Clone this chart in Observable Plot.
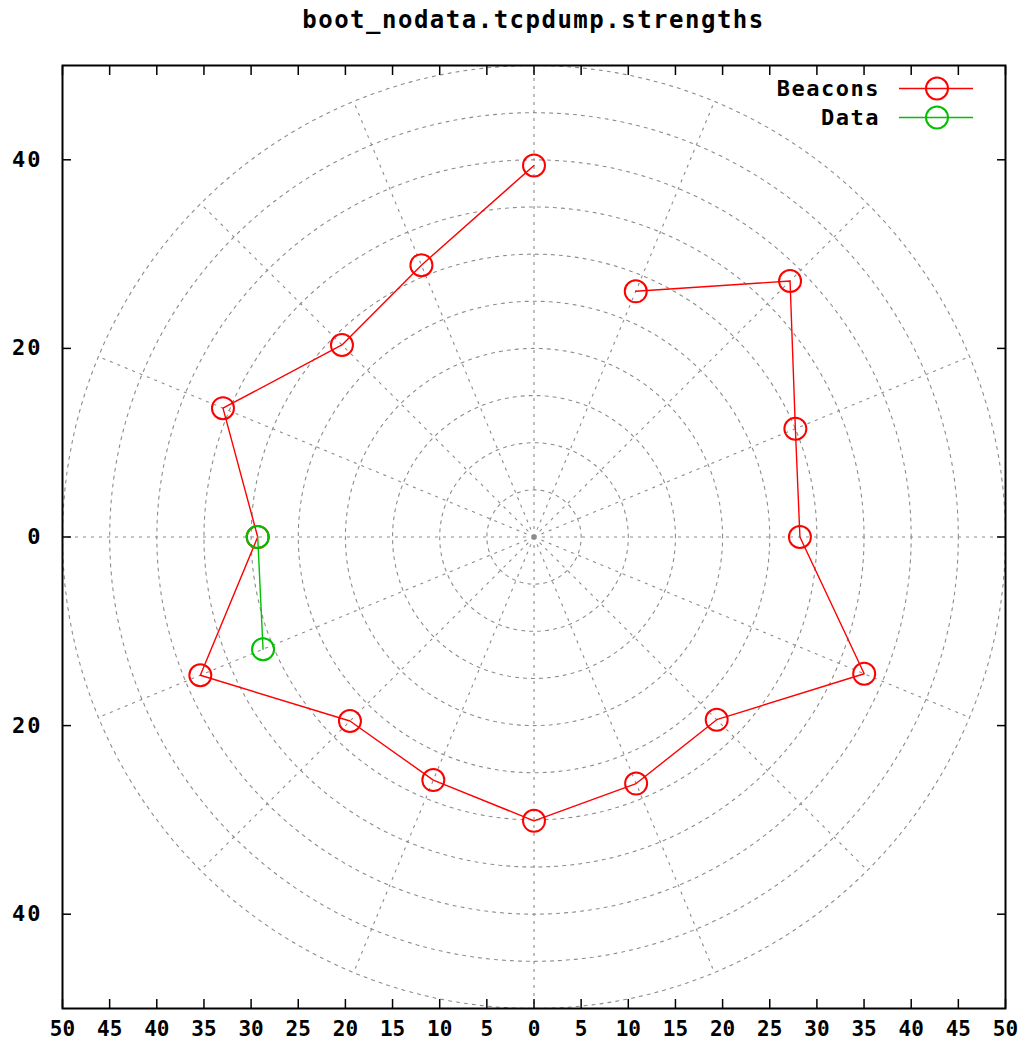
<!DOCTYPE html>
<html><head><meta charset="utf-8">
<script src="https://cdn.jsdelivr.net/npm/d3@7"></script>
<script src="https://cdn.jsdelivr.net/npm/@observablehq/plot@0.6"></script>
<style>
body{margin:0;background:#fff;}
#wrap{position:relative;width:1034px;height:1055px;font-family:"DejaVu Sans Mono",monospace;font-weight:bold;color:#000;}
#title{height:45px;box-sizing:border-box;padding:6px 29px 0 62px;text-align:center;font-size:24px;letter-spacing:1.5px;line-height:28px;}
#legend{position:absolute;left:740px;top:74px;width:260px;}
.row{display:flex;align-items:center;height:29px;}
.row span{display:inline-block;width:140px;text-align:right;font-size:22px;letter-spacing:1.5px;}
.row svg{margin-left:19px;}
</style></head>
<body><div id="wrap"><div id="title">boot_nodata.tcpdump.strengths</div><div id="chart"></div><div id="legend"></div></div>
<script>
// Polar data: angle (degrees), strength (radius)
const beaconAngles    = [90, 112.5, 135, 157.5, 180, 202.5, 225, 247.5, 270, 292.5, 315, 337.5, 0, 22.5, 45, 67.5];
const beaconStrengths = [39.4, 31.2, 28.8, 35.7, 29.3, 38.3, 27.6, 27.9, 30.1, 28.3, 27.4, 37.9, 28.2, 30.0, 38.4, 28.2];
const dataAngles      = [180, 202.5];
const dataStrengths   = [29.3, 31.1];
const seriesNames     = ["Beacons", "Data"];
const seriesColors    = ["#ff0000", "#00c000"];
const xTicks = [-50, -45, -40, -35, -30, -25, -20, -15, -10, -5, 0, 5, 10, 15, 20, 25, 30, 35, 40, 45, 50];
const yTicks = [-40, -20, 0, 20, 40];
const gridRadii  = [5, 10, 15, 20, 25, 30, 35, 40, 45, 50];
const spokeAngles = [0, 22.5, 45, 67.5, 90, 112.5, 135, 157.5, 180, 202.5, 225, 247.5, 270, 292.5, 315, 337.5];

const rad = a => a * Math.PI / 180;
const toXY = (angles, radii) => angles.map((a, i) => ({x: radii[i] * Math.cos(rad(a)), y: radii[i] * Math.sin(rad(a))}));
const beacons = toXY(beaconAngles, beaconStrengths);
const dataPts = toXY(dataAngles, dataStrengths);

const circlePts = [];
for (const r of gridRadii) for (let a = 0; a <= 360; a += 2) circlePts.push({r, x: r * Math.cos(rad(a)), y: r * Math.sin(rad(a))});
const outerR = gridRadii[gridRadii.length - 1];
const spokes = spokeAngles.map(a => ({x2: outerR * Math.cos(rad(a)), y2: outerR * Math.sin(rad(a))}));

const gridStyle = {stroke: "#8c8c8c", strokeWidth: 1.1, strokeDasharray: "3,5"};

const chart = Plot.plot({
  width: 1034, height: 1010,
  marginLeft: 62, marginRight: 29, marginTop: 20, marginBottom: 47,
  x: {domain: [-50, 50]},
  y: {domain: [-50, 50]},
  style: {fontFamily: "'DejaVu Sans Mono', monospace", fontWeight: "bold", background: "white", color: "black"},
  marks: [
    Plot.line(circlePts, {x: "x", y: "y", z: "r", ...gridStyle}),
    Plot.link(spokes, {x1: () => 0, y1: () => 0, x2: "x2", y2: "y2", ...gridStyle}),
    Plot.line(beacons, {x: "x", y: "y", stroke: seriesColors[0], strokeWidth: 1.4}),
    Plot.dot(beacons, {x: "x", y: "y", r: 11, stroke: seriesColors[0], strokeWidth: 2, fill: "none"}),
    Plot.line(dataPts, {x: "x", y: "y", stroke: seriesColors[1], strokeWidth: 1.4}),
    Plot.dot(dataPts, {x: "x", y: "y", r: 11, stroke: seriesColors[1], strokeWidth: 2, fill: "none"}),
    Plot.frame({stroke: "black", strokeWidth: 2}),
    Plot.axisX({anchor: "bottom", ticks: xTicks, tickSize: -9, tickFormat: () => "", label: null, strokeWidth: 1.5}),
    Plot.axisX({anchor: "top", ticks: xTicks, tickSize: -9, tickFormat: () => "", label: null, strokeWidth: 1.5}),
    Plot.axisY({anchor: "left", ticks: yTicks, tickSize: -9, tickFormat: () => "", label: null, strokeWidth: 1.5}),
    Plot.axisY({anchor: "right", ticks: yTicks, tickSize: -9, tickFormat: () => "", label: null, strokeWidth: 1.5}),
    Plot.axisX({anchor: "bottom", ticks: xTicks, tickSize: 0, tickPadding: 13, tickFormat: d => Math.abs(d), label: null, fontSize: 21}),
    Plot.axisY({anchor: "left", ticks: yTicks, tickSize: 0, tickPadding: 20, tickFormat: d => Math.abs(d), label: null, fontSize: 22})
  ]
});
document.getElementById("chart").appendChild(chart);
d3.select(chart).selectAll('g[aria-label="y-axis tick label"] text').style("letter-spacing", "2px");

// Legend
const legend = document.getElementById("legend");
seriesNames.forEach((name, i) => {
  const row = document.createElement("div");
  row.className = "row";
  row.innerHTML = `<span>${name}</span><svg width="74" height="29"><line x1="0" x2="74" y1="14.5" y2="14.5" stroke="${seriesColors[i]}" stroke-width="1.4"/><circle cx="38" cy="14.5" r="11" fill="none" stroke="${seriesColors[i]}" stroke-width="2"/></svg>`;
  legend.appendChild(row);
});
</script>
</body></html>
